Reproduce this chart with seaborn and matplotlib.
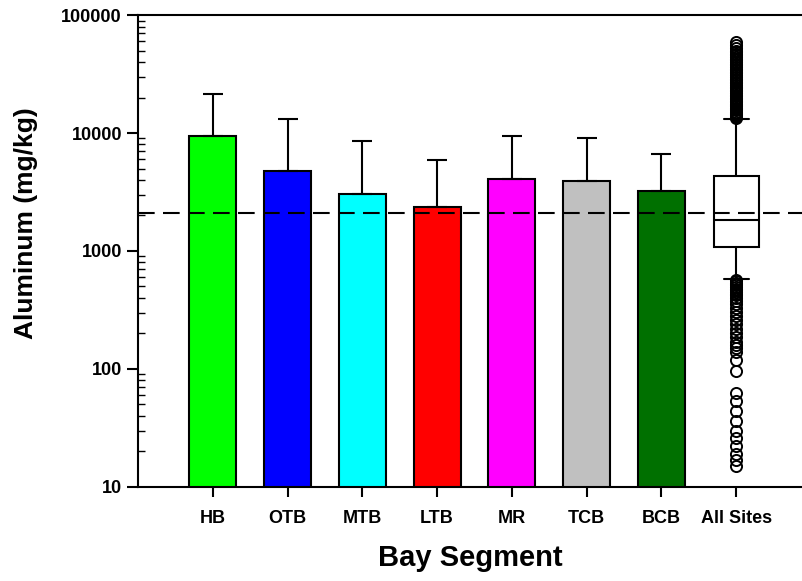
import matplotlib
matplotlib.use("Agg")
import matplotlib.pyplot as plt
import pandas as pd
import seaborn as sns

segments = ["HB", "OTB", "MTB", "LTB", "MR", "TCB", "BCB"]
means = [9450, 4770, 3050, 2370, 4100, 3900, 3250]
upper = [21500, 13200, 8500, 5900, 9500, 9000, 6700]
colors = ["#00ff00", "#0000ff", "#00ffff", "#ff0000", "#ff00ff", "#c0c0c0", "#007000"]
tick_labels = segments + ["All Sites"]

# All Sites box summary
box_q1, box_med, box_q3 = 1090, 1830, 4350
box_lo, box_hi = 580, 13200
fliers_high = [13300, 13600, 13900, 14200, 14500, 14800, 15200, 15600, 16000, 16400,
               16800, 17300, 17800, 18300, 18800, 19400, 20000, 20600, 21200, 21900,
               22600, 23300, 24000, 24800, 25600, 26400, 27200, 28100, 29000, 30000,
               31000, 32000, 33000, 34100, 35200, 36300, 37500, 38700, 40000, 41300,
               42600, 44000, 45500, 47000, 48500, 50000, 52500, 55500, 59000]
fliers_low = [570, 555, 540, 525, 510, 495, 480, 465, 450, 435, 420, 400, 380, 355,
              330, 305, 280, 260, 240, 220, 200, 185, 170, 160, 150, 140, 118, 96,
              63, 53, 44, 36, 30, 26, 22, 19, 17, 15]
ref_line = 2100

df = pd.DataFrame({"segment": segments, "value": means})

sns.set_theme(style="white")
plt.rcParams["font.family"] = ["Liberation Sans", "DejaVu Sans"]
plt.rcParams["font.weight"] = "bold"
plt.rcParams["text.color"] = "black"
plt.rcParams["axes.labelcolor"] = "black"
plt.rcParams["xtick.color"] = "black"
plt.rcParams["ytick.color"] = "black"

fig = plt.figure(figsize=(8.02, 5.81), dpi=100)
ax = fig.add_axes([0.172, 0.162, 0.828, 0.812])
ax.set_yscale("log")

sns.barplot(data=df, x="segment", y="value", hue="segment", palette=colors,
            order=segments, width=0.63, edgecolor="black", linewidth=1.5,
            saturation=1, legend=False, ax=ax)
ax.errorbar(range(len(segments)), means,
            yerr=[[0] * len(segments), [u - m for u, m in zip(upper, means)]],
            fmt="none", ecolor="black", elinewidth=1.5, capsize=7, capthick=1.5)

stats = [{"med": box_med, "q1": box_q1, "q3": box_q3, "whislo": box_lo,
          "whishi": box_hi, "fliers": fliers_high + fliers_low}]
ax.bxp(stats, positions=[7], widths=0.6, patch_artist=True,
       boxprops=dict(facecolor="white", edgecolor="black", linewidth=1.5),
       medianprops=dict(color="black", linewidth=1.5),
       whiskerprops=dict(color="black", linewidth=1.5),
       capprops=dict(color="black", linewidth=1.5), capwidths=0.33,
       flierprops=dict(marker="o", markerfacecolor="none", markeredgecolor="black",
                       markersize=8, markeredgewidth=1.4))

ax.axhline(ref_line, color="black", linestyle=(0, (8, 4)), linewidth=1.5, zorder=5)

ax.set_ylim(10, 100000)
ax.set_xlim(-1, 7.88)
ax.set_xticks(range(len(tick_labels)))
ax.set_xticklabels(tick_labels, fontsize=13, fontweight="bold")
ax.set_yticks([10, 100, 1000, 10000, 100000])
ax.set_yticklabels(["10", "100", "1000", "10000", "100000"], fontsize=13, fontweight="bold")
ax.tick_params(axis="y", which="major", direction="out", length=8, width=1.5, left=True)
ax.tick_params(axis="y", which="minor", direction="in", length=5, width=1, left=True)
ax.tick_params(axis="x", direction="out", length=7, width=1.5, bottom=True, pad=10)

for side in ["left", "bottom", "top"]:
    ax.spines[side].set_linewidth(1.5)
    ax.spines[side].set_color("black")
ax.spines["right"].set_visible(False)

ax.set_xlabel("Bay Segment", fontsize=21, fontweight="bold", labelpad=12)
ax.set_ylabel("Aluminum (mg/kg)", fontsize=19, fontweight="bold")
ax.yaxis.set_label_coords(-0.15, 0.56)

fig.savefig("out.png", dpi=100)
